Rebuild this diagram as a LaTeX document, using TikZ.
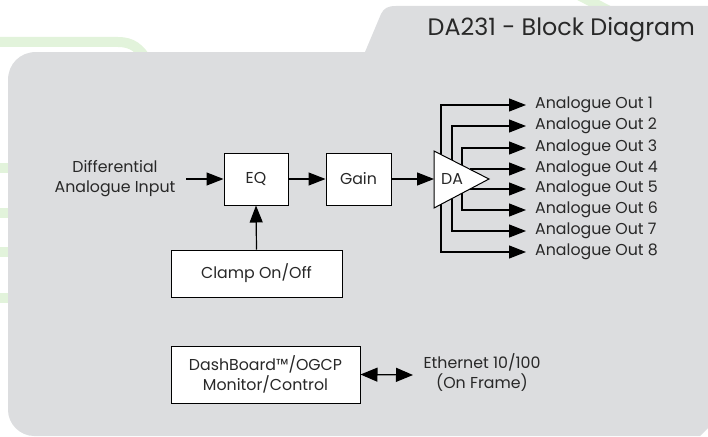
\documentclass[tikz,border=0pt]{standalone}
\usepackage{fontspec}
\setmainfont{Poppins}
\usetikzlibrary{arrows.meta}
\definecolor{panel}{RGB}{220,221,223}
\definecolor{deco}{RGB}{226,243,219}
\definecolor{ink}{RGB}{40,40,40}
\begin{document}
\begin{tikzpicture}[x=1pt,y=-1pt,
  txt/.style={text=ink,font=\fontsize{15.8pt}{20pt}\selectfont,inner sep=0pt,align=center},
  blk/.style={draw=black,fill=white,line width=1pt,text=ink,font=\fontsize{15.8pt}{20pt}\selectfont,align=center,inner sep=0pt},
  outlbl/.style={txt,anchor=west,inner xsep=9pt,inner ysep=0pt},
  arr/.style={line width=1.2pt,-{Triangle[length=17pt,width=13pt]}},
  dbl/.style={line width=1.2pt,{Triangle[length=17pt,width=14pt]}-{Triangle[length=17pt,width=14pt]}},
  decoline/.style={deco,line width=10pt}]
\useasboundingbox (0,0) rectangle (708,436);
\clip (0,0) rectangle (708,436);
% background decoration
\draw[decoline] (-10,42) -- (118,42) .. controls (132,42) and (140,48) .. (148,62);
\draw[decoline] (565,-12) -- (615,14);
\foreach \yy in {168,213,252,298} \draw[decoline] (-10,\yy) -- (30,\yy);
% panel
\fill[panel] (700,436) -- (34,436) .. controls (20,436) and (8,424) .. (8,410)
  -- (8,80) .. controls (8,64) and (20,52) .. (36,52) -- (365,52) -- (381,14)
  .. controls (384,8) and (388,6) .. (396,6) -- (708,6) -- (708,428) -- cycle;
% title
\node[text=ink,font=\fontsize{23.8pt}{26pt}\selectfont,anchor=east,inner sep=0pt] (title) at (695,30) {DA231 - Block Diagram};
% blocks
\node[txt] (in) at (115,179) {Differential\\Analogue Input};
\node[blk,minimum width=64pt,minimum height=52pt] (eq) at (256,179) {EQ};
\node[blk,minimum width=65pt,minimum height=52pt] (gain) at (358.5,179) {Gain};
\node[blk,minimum width=171pt,minimum height=47pt] (clamp) at (256.5,273.5) {Clamp On/Off};
\node[blk,minimum width=189pt,minimum height=57pt] (dash) at (265.5,374.5) {DashBoard™/OGCP\\Monitor/Control};
\node[txt] (eth) at (482,373) {Ethernet 10/100\\(On Frame)};
\coordinate (inend) at (186,179);
\coordinate (dain) at (434,179);
\coordinate (ethend) at (413,375);
% outputs
\foreach \i/\yy in {1/105,2/126,3/148,4/169,5/189,6/210,7/231,8/252}
  \node[outlbl] (o\i) at (526,\yy) {Analogue Out \i};
\coordinate (s1) at (441,175);
\coordinate (s2) at (452,175);
\coordinate (s3) at (462,175);
\coordinate (s8) at (441,183);
\coordinate (s7) at (452,183);
\coordinate (s6) at (462,183);
\coordinate (s4) at (470,175);
\coordinate (s5) at (465,185);
\draw[arr] (s1) |- (o1.west);
\draw[arr] (s2) |- (o2.west);
\draw[arr] (s3) |- (o3.west);
\draw[arr] (s4 |- o4.west) -- (o4.west);
\draw[arr] (s5 |- o5.west) -- (o5.west);
\draw[arr] (s6) |- (o6.west);
\draw[arr] (s7) |- (o7.west);
\draw[arr] (s8) |- (o8.west);
% DA triangle
\coordinate (datop) at (434,151);
\coordinate (dabot) at (434,208);
\coordinate (daapex) at (489,179);
\filldraw[fill=white,draw=black,line width=1pt,line join=miter] (datop) -- (daapex) -- (dabot) -- cycle;
\node[txt] (da) at (452,179) {DA};
% connectors
\draw[arr] (inend) -- (eq.west);
\draw[arr] (eq.east) -- (gain.west);
\draw[arr] (gain.east) -- (dain);
\draw[arr] (clamp.north) -- (eq.south);
\draw[dbl] (dash.east) -- (ethend);
\end{tikzpicture}
\end{document}
